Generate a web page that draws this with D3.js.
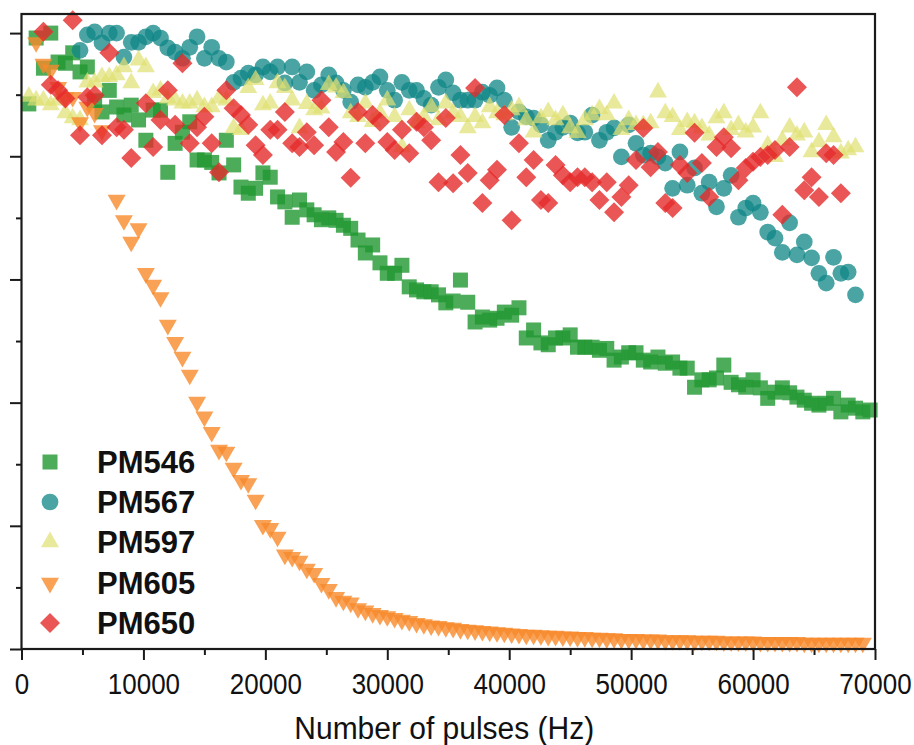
<!DOCTYPE html>
<html>
<head>
<meta charset="utf-8">
<script src="https://cdn.jsdelivr.net/npm/d3@7"></script>
<style>
  body { margin: 0; background: #fff; }
  svg { display: block; font-family: "Liberation Sans", Arial, Helvetica, sans-serif; }
</style>
</head>
<body>
<div id="chart"></div>
<script>
// sampling points (Hz) shared by all series
var pulses = [0,600,1200,1800,2400,3000,3600,4200,4800,5400,6000,6600,7200,7800,8400,9000,9600,10200,10800,11400,
  12000,12600,13200,13800,14400,15000,15600,16200,16800,17400,18000,18600,19200,19800,20400,21000,21600,22200,22800,23400,
  24000,24600,25200,25800,26400,27000,27600,28200,28800,29400,30000,30600,31200,31800,32400,33000,33600,34200,34800,35400,
  36000,36600,37200,37800,38400,39000,39600,40200,40800,41400,42000,42600,43200,43800,44400,45000,45600,46200,46800,47400,
  48000,48600,49200,49800,50400,51000,51600,52200,52800,53400,54000,54600,55200,55800,56400,57000,57600,58200,58800,59400,
  60000,60600,61200,61800,62400,63000,63600,64200,64800,65400,66000,66600,67200,67800,68400,69000,69600];

// normalized signal for each dye, null = no point
var pm546 = [null,0.885,0.992,0.943,1.000,0.953,0.951,0.968,0.937,0.945,0.890,0.872,0.907,0.880,0.867,0.883,0.859,0.826,0.875,0.875,
  0.774,0.821,0.839,0.856,0.794,0.794,0.790,0.773,0.826,0.786,0.750,0.740,0.748,0.773,0.766,0.734,0.726,0.701,0.729,0.713,
  0.705,0.697,0.700,0.696,0.688,0.683,0.664,0.643,0.656,0.627,0.610,0.610,0.623,0.588,0.583,0.580,0.580,0.575,0.562,0.565,
  0.599,0.563,0.531,0.539,0.534,0.537,0.547,0.542,0.554,0.505,0.518,0.497,0.494,0.505,0.505,0.510,0.490,0.490,0.490,0.485,
  0.488,0.469,0.474,0.481,0.481,0.469,0.466,0.474,0.464,0.466,0.456,0.456,0.425,0.437,0.437,0.440,0.461,0.433,0.429,0.425,
  0.437,0.424,0.407,0.417,0.424,0.416,0.409,0.404,0.399,0.396,0.399,0.407,0.385,0.396,0.391,0.385,0.388];

var pm567 = [null,null,null,null,null,null,null,null,0.972,0.997,1.002,0.984,1.000,1.000,0.961,0.985,0.985,0.994,1.000,0.992,
  0.976,0.969,0.959,0.977,0.994,0.959,0.977,0.959,0.953,0.920,0.927,0.935,0.932,0.945,0.937,0.945,0.919,0.945,0.920,0.937,
  0.907,0.916,0.932,0.919,0.907,0.888,0.916,0.912,0.920,0.929,0.907,0.891,0.920,0.907,0.907,0.894,0.883,0.912,0.924,0.903,
  0.891,0.891,0.891,0.904,0.899,0.911,0.891,0.847,0.872,0.864,0.862,0.851,0.826,0.839,0.847,0.854,0.838,0.839,0.867,0.826,
  0.839,0.846,0.799,0.851,0.821,0.802,0.805,0.799,0.789,0.748,0.807,0.753,0.781,0.740,0.758,0.718,0.748,0.769,0.701,0.716,
  0.724,0.709,0.677,0.667,0.644,0.692,0.640,0.661,0.635,0.610,0.594,0.636,0.610,0.612,0.575,null,null];

var pm597 = [null,0.897,0.891,0.891,0.883,0.891,0.870,0.862,0.859,0.920,0.920,0.929,0.929,0.932,0.945,0.919,0.956,0.945,0.903,0.907,
  0.894,0.891,0.886,0.886,0.891,0.880,0.880,0.894,0.891,0.846,0.843,0.911,0.924,0.883,0.886,0.919,0.911,0.891,0.846,0.885,
  0.875,0.878,0.916,0.912,0.903,0.870,0.864,0.886,0.856,0.870,0.891,0.864,0.815,0.875,0.854,0.864,0.880,0.859,0.886,0.870,
  0.864,0.846,0.864,0.854,0.880,0.870,0.867,0.875,0.880,0.859,0.839,0.862,0.872,0.859,0.867,0.846,0.838,0.859,0.867,0.877,
  0.867,0.886,0.843,0.859,0.851,0.851,0.854,0.904,0.870,0.864,0.843,0.856,0.854,0.846,0.834,0.862,0.870,0.843,0.851,0.839,
  0.847,0.870,0.818,0.799,0.826,0.847,0.834,0.839,0.807,0.823,0.851,0.831,0.805,0.810,0.815,null,null];

var pm605 = [null,null,0.985,0.950,0.940,0.912,0.895,0.896,0.855,0.880,0.870,0.842,null,0.729,0.696,0.661,0.683,0.610,0.591,0.571,
  0.526,0.498,0.474,0.445,0.401,0.377,0.352,0.323,0.320,0.294,0.274,0.269,0.242,0.201,0.196,0.182,0.153,0.149,0.143,0.130,
  0.123,0.107,0.097,0.084,0.078,0.075,0.066,0.062,0.058,0.055,0.053,0.050,0.047,0.045,0.042,0.040,0.038,0.037,0.035,0.034,
  0.032,0.031,0.030,0.029,0.028,0.027,0.026,0.025,0.024,0.023,0.023,0.022,0.021,0.021,0.020,0.020,0.019,0.019,0.018,0.018,
  0.017,0.017,0.016,0.016,0.016,0.015,0.015,0.015,0.014,0.014,0.014,0.014,0.013,0.013,0.013,0.013,0.012,0.012,0.012,0.012,
  0.012,0.011,0.011,0.011,0.011,0.011,0.011,0.010,0.010,0.010,0.010,0.010,0.010,0.010,0.010,0.010,null];

var pm650 = [null,null,null,1.002,0.916,0.907,0.894,1.021,0.834,0.896,0.899,0.834,0.968,0.847,0.843,0.797,null,0.886,0.815,0.859,
  0.907,0.851,0.951,0.821,0.847,0.864,0.821,0.774,0.907,0.878,0.867,0.851,0.818,0.802,0.843,0.843,0.872,0.821,0.815,0.839,
  0.818,0.891,0.847,0.807,0.823,0.765,0.872,0.821,0.867,0.856,0.823,0.810,0.843,0.805,0.856,0.847,0.826,0.758,0.862,0.756,
  0.802,0.773,0.911,0.724,0.761,0.778,0.867,0.696,0.821,0.766,0.794,0.729,0.724,0.786,0.769,0.758,0.766,0.766,0.758,0.729,
  0.758,0.709,0.734,0.753,0.794,0.846,0.782,0.807,0.724,0.716,0.786,0.773,0.838,0.789,0.734,0.815,0.831,0.813,0.761,0.781,
  0.791,0.799,0.802,0.810,0.705,0.815,0.912,0.745,0.766,0.734,0.805,0.802,0.740,null,null,null,null];

var seriesNames = ["PM546", "PM567", "PM597", "PM605", "PM650"];
var xTicks = [0, 10000, 20000, 30000, 40000, 50000, 60000, 70000];
var xMinorTicks = [5000, 15000, 25000, 35000, 45000, 55000, 65000];
var yTicks = [0, 0.2, 0.4, 0.6, 0.8, 1.0];
var yMinorTicks = [0.1, 0.3, 0.5, 0.7, 0.9];

// chart size
var W = 914, H = 745;
var margin = {top: 14, right: 39, bottom: 96, left: 21.5},
    w = W - margin.left - margin.right,
    h = H - margin.top - margin.bottom;

var series = [
  {name: seriesNames[0], values: pm546, color: "#209731", opacity: 0.8, shape: d3.symbolSquare, size: 225, rotate: 0},
  {name: seriesNames[1], values: pm567, color: "#0f8585", opacity: 0.75, shape: d3.symbolCircle, size: 220, rotate: 0},
  {name: seriesNames[2], values: pm597, color: "#e0e070", opacity: 0.7, shape: d3.symbolTriangle, size: 140, rotate: 0},
  {name: seriesNames[3], values: pm605, color: "#f78a2a", opacity: 0.8, shape: d3.symbolTriangle, size: 140, rotate: 180},
  {name: seriesNames[4], values: pm650, color: "#e52b2b", opacity: 0.8, shape: d3.symbolSquare, size: 200, rotate: 45}
];

var root = d3.select("#chart").append("svg")
  .attr("width", W)
  .attr("height", H);

var svg = root.append("g")
  .attr("transform", `translate(${margin.left},${margin.top})`);

var x = d3.scaleLinear().domain([0, 70000]).range([0, w]);
var y = d3.scaleLinear().domain([0, 1.031]).range([h, 0]);

// scatter points
series.forEach(function(s) {
  var pts = pulses.map(function(p, i) { return {x: p, y: s.values[i]}; })
    .filter(function(d) { return d.y != null; });
  svg.append("g")
    .selectAll("path")
    .data(pts)
    .enter().append("path")
    .attr("d", d3.symbol().type(s.shape).size(s.size))
    .attr("transform", d => `translate(${x(d.x)},${y(d.y)}) rotate(${s.rotate})`)
    .attr("fill", s.color)
    .attr("fill-opacity", s.opacity);
});

// frame
svg.append("rect")
  .attr("width", w)
  .attr("height", h)
  .attr("fill", "none")
  .attr("stroke", "#1a1a1a")
  .attr("stroke-width", 2.2);

// x axis, major + minor ticks
var xAxis = svg.append("g")
  .attr("transform", "translate(0," + h + ")")
  .call(d3.axisBottom(x).tickValues(xTicks).tickSize(11).tickPadding(10).tickFormat(d3.format("d")))
  .attr("font-size", 26)
  .attr("font-family", "Liberation Sans, Arial, sans-serif");
xAxis.select(".domain").remove();
xAxis.selectAll("line").attr("stroke", "#1a1a1a").attr("stroke-width", 2);
xAxis.selectAll("text").attr("fill", "#111").attr("transform", "scale(1,1.15)");

var xMinor = svg.append("g")
  .attr("transform", "translate(0," + h + ")")
  .call(d3.axisBottom(x).tickValues(xMinorTicks).tickSize(6).tickFormat(""));
xMinor.select(".domain").remove();
xMinor.selectAll("line").attr("stroke", "#1a1a1a").attr("stroke-width", 2);

// y axis has ticks only, no labels
var yAxis = svg.append("g")
  .call(d3.axisLeft(y).tickValues(yTicks).tickSize(11.5).tickFormat(""));
yAxis.select(".domain").remove();
yAxis.selectAll("line").attr("stroke", "#1a1a1a").attr("stroke-width", 2);

var yMinor = svg.append("g")
  .call(d3.axisLeft(y).tickValues(yMinorTicks).tickSize(5.5).tickFormat(""));
yMinor.select(".domain").remove();
yMinor.selectAll("line").attr("stroke", "#1a1a1a").attr("stroke-width", 2);

// axis title
root.append("text")
  .attr("transform", "translate(" + (margin.left + w / 2 - 4) + ",739) scale(1,1.07)")
  .attr("text-anchor", "middle")
  .attr("font-size", 30)
  .attr("fill", "#111")
  .text("Number of pulses (Hz)");

// legend
var legend = root.append("g");
var rowY = [462, 502, 542, 583, 623];
series.forEach(function(s, i) {
  legend.append("path")
    .attr("d", d3.symbol().type(s.shape).size(s.size))
    .attr("transform", `translate(50,${rowY[i]}) rotate(${s.rotate})`)
    .attr("fill", s.color)
    .attr("fill-opacity", s.opacity);
  legend.append("text")
    .attr("x", 97)
    .attr("y", rowY[i] + 11)
    .attr("font-size", 31)
    .attr("font-weight", "bold")
    .attr("fill", "#111")
    .text(s.name);
});
</script>
</body>
</html>
